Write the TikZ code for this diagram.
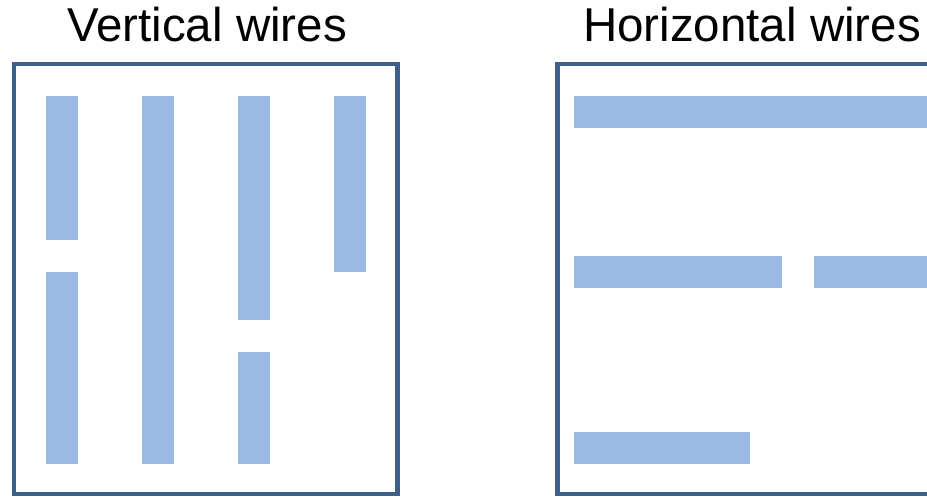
\documentclass[tikz,border=0pt]{standalone}
\usepackage{fontspec}
\setmainfont{Liberation Sans}
\definecolor{wirefill}{HTML}{9BBBE6}
\definecolor{boxline}{HTML}{3D5F8C}
\begin{document}
\begin{tikzpicture}[x=1pt,y=-1pt,
  wire/.style={fill=wirefill,draw=none},
  frame/.style={draw=boxline,line width=4.5pt},
  title/.style={anchor=base,inner sep=0pt,font=\fontsize{47.5}{57}\selectfont}]
\useasboundingbox (0,0) rectangle (927,496);
% titles
\node[title] (tv) at (207,41) {Vertical wires};
\node[title] (th) at (752,41) {Horizontal wires};
% left frame
\draw[frame] (14,64) rectangle (397.5,494);
% vertical wires
\fill[wire] (46,96) rectangle (78,240);
\fill[wire] (46,272) rectangle (78,464);
\fill[wire] (142,96) rectangle (174,464);
\fill[wire] (238,96) rectangle (270,320);
\fill[wire] (238,352) rectangle (270,464);
\fill[wire] (334,96) rectangle (366,272);
% right frame (clipped at the right border)
\begin{scope}
\clip (0,0) rectangle (927,496);
\draw[frame] (557.5,64) rectangle (960,494);
\fill[wire] (574,96) rectangle (940,128);
\fill[wire] (574,256) rectangle (782,288);
\fill[wire] (814,256) rectangle (940,288);
\fill[wire] (574,432) rectangle (750,464);
\end{scope}
\end{tikzpicture}
\end{document}
